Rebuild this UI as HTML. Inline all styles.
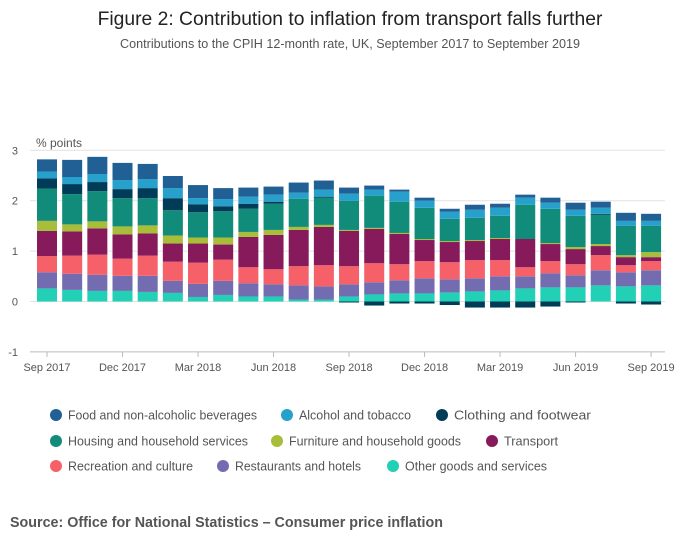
<!DOCTYPE html>
<html><head><meta charset="utf-8"><style>
body{margin:0;background:#fff;font-family:"Liberation Sans",sans-serif;}
svg text{font-family:"Liberation Sans",sans-serif;}
</style></head><body>
<svg id="chart" width="700" height="549" xmlns="http://www.w3.org/2000/svg">
<text x="350" y="25" text-anchor="middle" font-size="19.3" fill="#222">Figure 2: Contribution to inflation from transport falls further</text>
<text x="350" y="48" text-anchor="middle" font-size="12.6" fill="#555">Contributions to the CPIH 12-month rate, UK, September 2017 to September 2019</text>
<text x="36" y="147" font-size="12" fill="#555">% points</text>
<g id="grid"></g>
<g id="bars"></g>
<g id="xaxis"></g>
<g id="legend"></g>
<text x="10" y="527" font-size="14.3" font-weight="bold" fill="#555">Source: Office for National Statistics – Consumer price inflation</text>
</svg>
<script>
const months = ["Sep 2017","Oct 2017","Nov 2017","Dec 2017","Jan 2018","Feb 2018","Mar 2018","Apr 2018","May 2018","Jun 2018","Jul 2018","Aug 2018","Sep 2018","Oct 2018","Nov 2018","Dec 2018","Jan 2019","Feb 2019","Mar 2019","Apr 2019","May 2019","Jun 2019","Jul 2019","Aug 2019","Sep 2019"];
const seriesNames = ["Other goods and services","Restaurants and hotels","Recreation and culture","Transport","Furniture and household goods","Housing and household services","Clothing and footwear","Alcohol and tobacco","Food and non-alcoholic beverages"];
const other = [.26,.23,.21,.21,.19,.17,.09,.13,.10,.10,.04,.04,.10,.14,.16,.16,.18,.20,.22,.26,.28,.28,.32,.30,.32];
const restaurants = [.32,.32,.32,.30,.32,.24,.26,.28,.26,.24,.28,.26,.24,.24,.26,.30,.26,.26,.28,.24,.28,.24,.30,.28,.30];
const recreation = [.32,.36,.40,.34,.40,.38,.42,.42,.32,.30,.38,.42,.36,.38,.32,.34,.34,.36,.32,.18,.24,.22,.30,.14,.18];
const transport = [.50,.48,.52,.48,.44,.36,.38,.30,.60,.68,.72,.76,.70,.68,.60,.42,.40,.38,.42,.56,.34,.30,.18,.16,.08];
const furniture = [.20,.14,.14,.16,.16,.16,.12,.14,.10,.10,.06,.04,.02,.02,.02,.02,.02,.02,.02,0,.02,.04,.04,.04,.10];
const housing = [.64,.60,.60,.56,.54,.50,.50,.52,.46,.52,.56,.54,.58,.64,.62,.62,.44,.44,.44,.68,.68,.62,.58,.58,.52];
const clothing = [.20,.20,.18,.18,.20,.24,.16,.10,.10,.04,0,.02,-.02,-.08,-.04,-.04,-.07,-.12,-.12,-.12,-.10,-.02,.02,-.04,-.06];
const alcohol = [.14,.14,.16,.18,.18,.20,.12,.14,.14,.14,.12,.14,.14,.12,.20,.14,.14,.16,.16,.14,.12,.12,.12,.10,.10];
const food = [.24,.34,.34,.34,.30,.24,.26,.22,.18,.16,.20,.18,.12,.08,.04,.06,.06,.10,.08,.06,.10,.14,.12,.16,.14];
const yTicks = [-1,0,1,2,3];
const xTickLabels = ["Sep 2017","Dec 2017","Mar 2018","Jun 2018","Sep 2018","Dec 2018","Mar 2019","Jun 2019","Sep 2019"];
const xTickIdx = [0,3,6,9,12,15,18,21,24];

const colors = ["#22d0b6","#746cb1","#f66068","#871a5b","#a8bd3a","#118c7b","#003c57","#27a0cc","#206095"];
const data = [other,restaurants,recreation,transport,furniture,housing,clothing,alcohol,food];
const NS="http://www.w3.org/2000/svg";
const y = v => 301.5 - v*50.4;
const x = i => 47 + i*25.17;
function mk(tag, attrs, parent){const e=document.createElementNS(NS,tag);for(const k in attrs)e.setAttribute(k,attrs[k]);parent.appendChild(e);return e;}
const grid=document.getElementById('grid');
yTicks.forEach(t=>{
  const l=mk('line',{x1:30,x2:665,y1:y(t),y2:y(t),stroke:t===-1?'#bbb':'#e2e2e2','stroke-width':1},grid);
  
  
  const tx=mk('text',{x:18,y:y(t)+4,'text-anchor':'end','font-size':11,fill:'#555'},grid);
  tx.textContent=t;
  
  
});
const bars=document.getElementById('bars');
months.forEach((m,i)=>{
  let pos=0,neg=0;
  data.forEach((s,k)=>{
    const v=s[i]; if(!v) return;
    let y0,y1;
    if(v>0){y0=pos;y1=pos+v;pos=y1;}else{y0=neg;y1=neg+v;neg=y1;}
    const r=mk('rect',{x:x(i)-10,width:20,y:Math.min(y(y0),y(y1)),height:Math.abs(y(y1)-y(y0)),fill:colors[k]},bars);
    
    
  });
});
const xa=document.getElementById('xaxis');
xTickIdx.forEach((idx,j)=>{
  const tk=mk('line',{x1:x(idx),x2:x(idx),y1:352,y2:357,stroke:'#bbb'},xa);
  
  
  const tx=mk('text',{x:x(idx),y:371,'text-anchor':'middle','font-size':11,fill:'#555'},xa);
  tx.textContent=xTickLabels[j];
  
  
});
const lg=document.getElementById('legend');
// legend layout: [series index, circle x, row y, text width]
const legendLayout=[[8,56,415,189],[7,287,415,112],[6,442,415,137],[5,56,441,180],[4,277,441,172],[3,492,441,54],[2,56,466,125],[1,223,466,126],[0,393,466,142]];
legendLayout.forEach(([k,cx,cy,w])=>{
  const g=mk('g',{},lg);
  
  
  mk('circle',{cx:cx,cy:cy,r:6,fill:colors[k]},g);
  const t=mk('text',{x:cx+12,y:cy+4.5,'font-size':12.5,fill:'#555',textLength:w,lengthAdjust:'spacingAndGlyphs'},g);
  t.textContent=seriesNames[k];
});
</script>
</body></html>
